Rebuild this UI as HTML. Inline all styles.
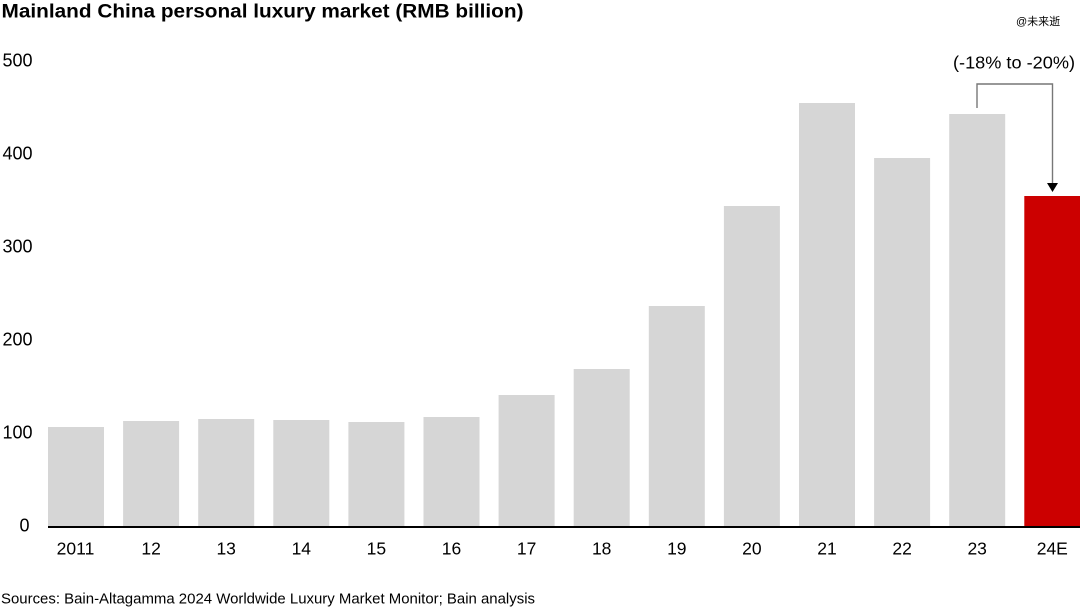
<!DOCTYPE html>
<html>
<head>
<meta charset="utf-8">
<style>
  html,body{margin:0;padding:0;background:#fff;}
  svg{display:block;}
  text{font-family:"Liberation Sans","Noto Sans CJK SC",sans-serif;fill:#000;}
</style>
</head>
<body>
<svg width="1080" height="608" viewBox="0 0 1080 608" xmlns="http://www.w3.org/2000/svg">
  <rect width="1080" height="608" fill="#fff"/>
  <text x="1.5" y="17.5" font-size="19" font-weight="bold" textLength="522" lengthAdjust="spacingAndGlyphs">Mainland China personal luxury market (RMB billion)</text>
  <text x="1016" y="25" font-size="11">@未来逝</text>

  <!-- y labels -->
  <g font-size="18" text-anchor="end">
    <text x="32.5" y="66.5">500</text>
    <text x="32.5" y="159.5">400</text>
    <text x="32.5" y="252.5">300</text>
    <text x="32.5" y="345.5">200</text>
    <text x="32.5" y="438.5">100</text>
    <text x="29.5" y="531.5">0</text>
  </g>

  <!-- bars -->
  <g fill="#d6d6d6">
    <rect x="48" y="427" width="56" height="100"/>
    <rect x="123.1" y="421" width="56" height="106"/>
    <rect x="198.2" y="419" width="56" height="108"/>
    <rect x="273.3" y="420" width="56" height="107"/>
    <rect x="348.4" y="422" width="56" height="105"/>
    <rect x="423.5" y="417" width="56" height="110"/>
    <rect x="498.6" y="395" width="56" height="132"/>
    <rect x="573.7" y="369" width="56" height="158"/>
    <rect x="648.8" y="306" width="56" height="221"/>
    <rect x="723.9" y="206" width="56" height="321"/>
    <rect x="799" y="103" width="56" height="424"/>
    <rect x="874.1" y="158" width="56" height="369"/>
    <rect x="949.2" y="114" width="56" height="413"/>
  </g>
  <rect x="1024.3" y="196" width="56" height="331" fill="#cc0000"/>

  <!-- axis -->
  <line x1="48" y1="527" x2="1080" y2="527" stroke="#000" stroke-width="2"/>

  <!-- x labels -->
  <g font-size="17.5" text-anchor="middle">
    <text x="75.5" y="554.5">2011</text>
    <text x="151.1" y="554.5">12</text>
    <text x="226.2" y="554.5">13</text>
    <text x="301.3" y="554.5">14</text>
    <text x="376.4" y="554.5">15</text>
    <text x="451.5" y="554.5">16</text>
    <text x="526.6" y="554.5">17</text>
    <text x="601.7" y="554.5">18</text>
    <text x="676.8" y="554.5">19</text>
    <text x="751.9" y="554.5">20</text>
    <text x="827" y="554.5">21</text>
    <text x="902.1" y="554.5">22</text>
    <text x="977.2" y="554.5">23</text>
    <text x="1052.3" y="554.5">24E</text>
  </g>

  <!-- annotation -->
  <text x="953" y="68.5" font-size="17.5" textLength="122" lengthAdjust="spacingAndGlyphs">(-18% to -20%)</text>
  <polyline points="977,108 977,84 1052.5,84 1052.5,184" fill="none" stroke="#777" stroke-width="1.4"/>
  <polygon points="1047,183 1058,183 1052.5,192" fill="#000"/>

  <text x="1" y="603.5" font-size="14.5" textLength="534" lengthAdjust="spacingAndGlyphs">Sources: Bain-Altagamma 2024 Worldwide Luxury Market Monitor; Bain analysis</text>
</svg>
</body>
</html>
